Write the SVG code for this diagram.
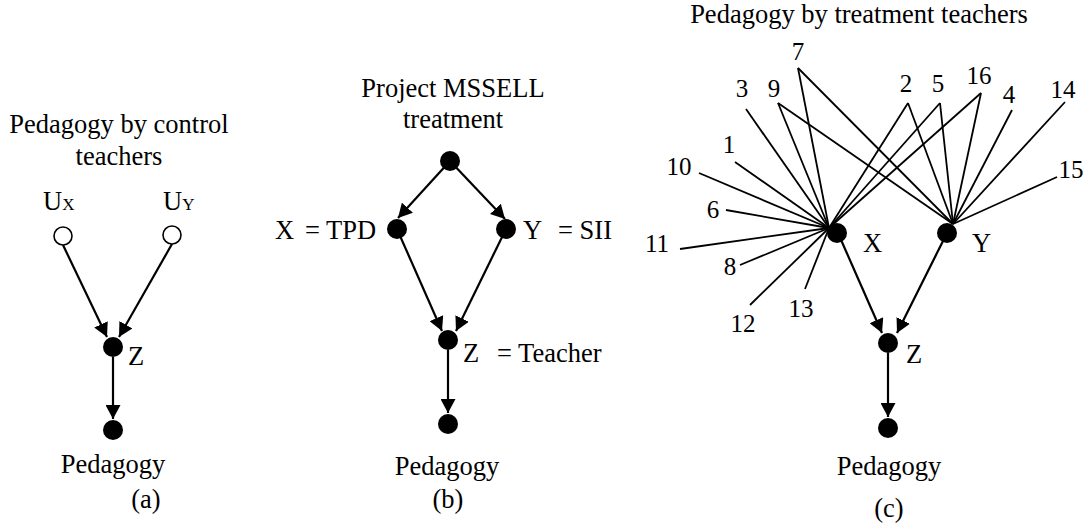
<svg xmlns="http://www.w3.org/2000/svg" width="1089" height="529" viewBox="0 0 1089 529">
<style>
text{font-family:"Liberation Serif","Times New Roman",serif;font-size:26.5px;fill:#000}
.m{text-anchor:middle}
.n{font-size:25px}
.sub{font-size:17px}
.dot{fill:#000}
.open{fill:#fff;stroke:#000;stroke-width:1.6}
.arr{stroke:#000;stroke-width:2.2;fill:none;marker-end:url(#ah)}
.sp{stroke:#000;stroke-width:1.8;fill:none}
</style>
<defs>
<marker id="ah" markerUnits="userSpaceOnUse" viewBox="0 0 14 15" refX="14" refY="7.5" markerWidth="14" markerHeight="15" orient="auto">
<path d="M0,0 L14,7.5 L0,15 z" fill="#000"/>
</marker>
</defs>
<rect width="1089" height="529" fill="#fff"/>

<g id="connectors">
<!-- (a) -->
<line class="arr" x1="63" y1="245" x2="107" y2="337"/>
<line class="arr" x1="172" y1="244" x2="119" y2="337"/>
<line class="arr" x1="113" y1="357" x2="113" y2="419"/>
<!-- (b) -->
<line class="arr" x1="450" y1="161" x2="398" y2="218"/>
<line class="arr" x1="450" y1="161" x2="505" y2="219"/>
<line class="arr" x1="397" y1="229" x2="442" y2="331"/>
<line class="arr" x1="506" y1="229" x2="456" y2="331"/>
<line class="arr" x1="448" y1="350" x2="448" y2="413"/>
<!-- (c) spokes to X -->
<line class="sp" x1="746" y1="109" x2="829" y2="228"/>
<line class="sp" x1="778" y1="103" x2="829" y2="228"/>
<line class="sp" x1="798" y1="68" x2="829" y2="228"/>
<line class="sp" x1="735" y1="162" x2="829" y2="228"/>
<line class="sp" x1="699" y1="173" x2="829" y2="228"/>
<line class="sp" x1="726" y1="210" x2="829" y2="228"/>
<line class="sp" x1="680" y1="249" x2="829" y2="228"/>
<line class="sp" x1="740" y1="265" x2="829" y2="228"/>
<line class="sp" x1="750" y1="305" x2="829" y2="228"/>
<line class="sp" x1="805" y1="289" x2="829" y2="228"/>
<line class="sp" x1="908" y1="103" x2="829" y2="228"/>
<line class="sp" x1="940" y1="103" x2="829" y2="228"/>
<line class="sp" x1="981" y1="93" x2="829" y2="228"/>
<!-- (c) spokes to Y -->
<line class="sp" x1="778" y1="103" x2="953" y2="224"/>
<line class="sp" x1="798" y1="68" x2="953" y2="224"/>
<line class="sp" x1="908" y1="103" x2="953" y2="224"/>
<line class="sp" x1="940" y1="103" x2="953" y2="224"/>
<line class="sp" x1="981" y1="93" x2="953" y2="224"/>
<line class="sp" x1="1012" y1="110" x2="953" y2="224"/>
<line class="sp" x1="1065" y1="102" x2="953" y2="224"/>
<line class="sp" x1="1057" y1="177" x2="953" y2="224"/>
<!-- (c) arrows -->
<line class="arr" x1="838" y1="233" x2="882" y2="333"/>
<line class="arr" x1="947" y1="233" x2="897" y2="333"/>
<line class="arr" x1="888" y1="353" x2="888" y2="417"/>
</g>

<!-- Panel (a) -->
<g id="a-title"><text class="m" x="119" y="133">Pedagogy by control</text><text class="m" x="119" y="165">teachers</text></g>
<g id="a-Ux"><circle class="open" cx="63" cy="236" r="9"/><text x="43" y="210">U<tspan class="sub">X</tspan></text></g>
<g id="a-Uy"><circle class="open" cx="172" cy="235" r="9"/><text x="163" y="210">U<tspan class="sub">Y</tspan></text></g>
<g id="a-Z"><circle class="dot" cx="113" cy="347" r="10"/><text x="128" y="365">Z</text></g>
<g id="a-P"><circle class="dot" cx="113" cy="430" r="10"/><text class="m" x="113" y="473">Pedagogy</text></g>
<text class="m" x="146" y="508">(a)</text>

<!-- Panel (b) -->
<g id="b-T"><text class="m" x="453" y="97">Project MSSELL</text><text class="m" x="453" y="128">treatment</text><circle class="dot" cx="450" cy="161" r="10"/></g>
<g id="b-X"><circle class="dot" cx="397" cy="229" r="10"/><text x="275" y="239">X</text><text x="305" y="239">= TPD</text></g>
<g id="b-Y"><circle class="dot" cx="506" cy="229" r="10"/><text x="523" y="239">Y</text><text x="558" y="239">= SII</text></g>
<g id="b-Z"><circle class="dot" cx="448" cy="340" r="10"/><text x="463" y="362">Z</text><text x="497" y="362">= Teacher</text></g>
<g id="b-P"><circle class="dot" cx="448" cy="424" r="10"/><text class="m" x="447" y="475">Pedagogy</text></g>
<text class="m" x="448" y="508">(b)</text>

<!-- Panel (c) -->
<text class="m" x="859" y="23">Pedagogy by treatment teachers</text>
<g id="c-labels">
<text class="n m" x="798" y="60">7</text>
<text class="n m" x="742" y="97">3</text>
<text class="n m" x="774" y="97">9</text>
<text class="n m" x="729" y="153">1</text>
<text class="n m" x="679" y="175">10</text>
<text class="n m" x="713" y="218">6</text>
<text class="n m" x="657" y="252">11</text>
<text class="n m" x="730" y="275">8</text>
<text class="n m" x="743" y="332">12</text>
<text class="n m" x="801" y="317">13</text>
<text class="n m" x="906" y="92">2</text>
<text class="n m" x="938" y="92">5</text>
<text class="n m" x="979" y="84">16</text>
<text class="n m" x="1009" y="103">4</text>
<text class="n m" x="1063" y="98">14</text>
<text class="n m" x="1071" y="178">15</text>
</g>
<g id="c-X"><circle class="dot" cx="837" cy="233" r="10"/><text x="863" y="252">X</text></g>
<g id="c-Y"><circle class="dot" cx="947" cy="233" r="10"/><text x="972" y="252">Y</text></g>
<g id="c-Z"><circle class="dot" cx="888" cy="343" r="10"/><text x="906" y="363">Z</text></g>
<g id="c-P"><circle class="dot" cx="888" cy="428" r="10"/><text class="m" x="889" y="475">Pedagogy</text></g>
<text class="m" x="889" y="517">(c)</text>
</svg>
